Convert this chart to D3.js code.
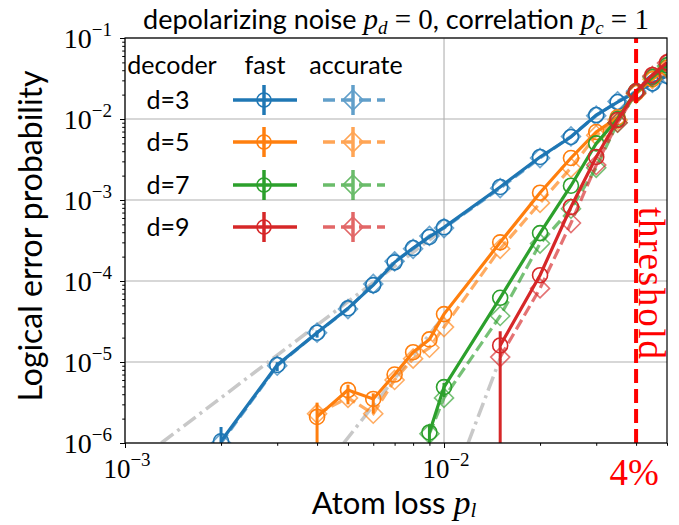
<!DOCTYPE html>
<html>
<head>
<meta charset="utf-8">
<script src="https://cdn.jsdelivr.net/npm/d3@7/dist/d3.min.js"></script>
<style>
  body { margin: 0; background: #fff; }
</style>
</head>
<body>
<svg id="chart" width="679" height="525"></svg>
<script>
// ---- data ----
const distances = [3, 5, 7, 9];

const loss3 = [0.002, 0.003, 0.004, 0.005, 0.006, 0.007, 0.008, 0.009, 0.01, 0.015, 0.02, 0.025, 0.03, 0.035, 0.04, 0.045, 0.05];
const fast3 = [1.05e-6, 9.2e-6, 2.3e-5, 4.6e-5, 8.9e-5, 1.7e-4, 2.55e-4, 3.5e-4, 4.6e-4, 1.45e-3, 3.4e-3, 6.0e-3, 1.12e-2, 1.62e-2, 2.15e-2, 2.75e-2, 3.4e-2];
const acc3 = [1.0e-6, 9.0e-6, 2.3e-5, 4.5e-5, 9.2e-5, 1.75e-4, 2.5e-4, 3.6e-4, 4.5e-4, 1.4e-3, 3.3e-3, 6.1e-3, 1.1e-2, 1.65e-2, 2.2e-2, 2.8e-2, 3.5e-2];
const errFast3 = [1.05e-6, 1.5e-6, 3e-6, 0, 0, 0, 0, 0, 0, 0, 0, 0, 0, 0, 0, 0, 0];

const loss5 = [0.004, 0.005, 0.006, 0.007, 0.008, 0.009, 0.01, 0.015, 0.02, 0.025, 0.03, 0.035, 0.04, 0.045, 0.05];
const fast5 = [2.1e-6, 4.5e-6, 3.5e-6, 7.0e-6, 1.32e-5, 1.9e-5, 3.9e-5, 3.0e-4, 1.23e-3, 3.3e-3, 6.9e-3, 1.05e-2, 2.1e-2, 3.1e-2, 4.3e-2];
const acc5 = [2.3e-6, 3.6e-6, 2.3e-6, 6.0e-6, 1.1e-5, 1.5e-5, 2.7e-5, 2.5e-4, 9.2e-4, 2.5e-3, 6.3e-3, 9.7e-3, 2.05e-2, 3.1e-2, 4.2e-2];
const errFast5 = [2.1e-6, 1.5e-6, 1.2e-6, 0, 0, 0, 0, 0, 0, 0, 0, 0, 0, 0, 0];

const loss7 = [0.009, 0.01, 0.015, 0.02, 0.025, 0.03, 0.035, 0.04, 0.045, 0.05];
const fast7 = [1.35e-6, 4.9e-6, 6.2e-5, 3.9e-4, 1.5e-3, 5.0e-3, 1.0e-2, 2.2e-2, 3.3e-2, 4.6e-2];
const acc7 = [1.3e-6, 3.6e-6, 3.7e-5, 2.9e-4, 7.8e-4, 2.5e-3, 9.0e-3, 2.1e-2, 3.3e-2, 4.5e-2];
const errFast7 = [0.7e-6, 1.2e-6, 0, 0, 0, 0, 0, 0, 0, 0];

const loss9 = [0.015, 0.02, 0.025, 0.03, 0.035, 0.04, 0.045, 0.05];
const fast9 = [1.6e-5, 1.18e-4, 8.2e-4, 3.4e-3, 9.7e-3, 2.2e-2, 3.5e-2, 5.0e-2];
const acc9 = [1.15e-5, 8.1e-5, 5.2e-4, 2.7e-3, 9.0e-3, 2.1e-2, 3.4e-2, 4.9e-2];
const errFast9 = [1.6e-5, 0, 0, 0, 0, 0, 0, 0];

// grey dash-dot guide lines (start / end points)
const guideLoss = [[0.0013, 0.01], [0.00485, 0.01], [0.0119, 0.015]];
const guideErr = [[1e-6, 4.4e-4], [1e-6, 3.7e-5], [1e-6, 1.1e-5]];

const thresholdLoss = 0.04;
const xMajor = [1e-3, 1e-2];
const yMajor = [1e-6, 1e-5, 1e-4, 1e-3, 1e-2, 1e-1];

const colors = ["#1f77b4", "#ff7f0e", "#2ca02c", "#d62728"];

// ---- layout ----
const W = 679, H = 525;
const margin = { top: 38, right: 12, bottom: 82, left: 125 };
const svg = d3.select("#chart");

const x = d3.scaleLog().domain([1e-3, 5e-2]).range([margin.left, W - margin.right]);
const y = d3.scaleLog().domain([1e-6, 1e-1]).range([H - margin.bottom, margin.top]);

const serif = "'Liberation Serif', 'Times New Roman', serif";
const sans = "Lato, 'Open Sans', sans-serif";

svg.append("defs").append("clipPath").attr("id", "plotClip")
    .append("rect")
    .attr("x", margin.left).attr("y", margin.top)
    .attr("width", W - margin.left - margin.right)
    .attr("height", H - margin.top - margin.bottom);

// grid
const grid = svg.append("g").attr("stroke", "#b0b0b0").attr("stroke-width", 1.1);
xMajor.forEach(v => grid.append("line")
    .attr("x1", x(v)).attr("x2", x(v)).attr("y1", margin.top).attr("y2", H - margin.bottom));
yMajor.forEach(v => grid.append("line")
    .attr("y1", y(v)).attr("y2", y(v)).attr("x1", margin.left).attr("x2", W - margin.right));

// axes ticks (major + minor) via d3 axes
const isMajor = v => Math.abs(Math.log10(v) - Math.round(Math.log10(v))) < 1e-6;
const xMinor = x.ticks().filter(v => !isMajor(v));
const yMinor = y.ticks().filter(v => !isMajor(v));

function styleAxis(g) {
    g.select(".domain").remove();
    g.selectAll("line").attr("stroke", "#000").attr("stroke-width", 1);
}
svg.append("g").attr("transform", `translate(0,${H - margin.bottom})`)
    .call(d3.axisBottom(x).tickValues(xMajor).tickSize(5).tickFormat("")).call(styleAxis);
svg.append("g").attr("transform", `translate(0,${H - margin.bottom})`)
    .call(d3.axisBottom(x).tickValues(xMinor).tickSize(2.8).tickFormat("")).call(styleAxis);
svg.append("g").attr("transform", `translate(${margin.left},0)`)
    .call(d3.axisLeft(y).tickValues(yMajor).tickSize(5).tickFormat("")).call(styleAxis);
svg.append("g").attr("transform", `translate(${margin.left},0)`)
    .call(d3.axisLeft(y).tickValues(yMinor).tickSize(2.8).tickFormat("")).call(styleAxis);

// tick labels 10^k
function powerLabel(sel, v) {
    const k = Math.round(Math.log10(v));
    sel.append("tspan").text("10");
    sel.append("tspan").attr("font-size", 19).attr("dy", -12).text("\u2212" + Math.abs(k));
}
yMajor.forEach(v => {
    svg.append("text").attr("x", 112).attr("y", y(v) + 10)
        .attr("text-anchor", "end").attr("font-family", serif).attr("font-size", 28)
        .call(powerLabel, v);
});
xMajor.forEach(v => {
    svg.append("text").attr("x", x(v) + 2).attr("y", 478)
        .attr("text-anchor", "middle").attr("font-family", serif).attr("font-size", 27)
        .call(powerLabel, v);
});
svg.append("text").attr("x", x(thresholdLoss) - 2).attr("y", 485)
    .attr("text-anchor", "middle").attr("font-family", serif).attr("font-size", 37)
    .attr("fill", "#ff0000").text("4%");

// plot content
const plot = svg.append("g").attr("clip-path", "url(#plotClip)");

const dashDot = "15,5,3,5";
guideLoss.forEach((xs, i) => {
    plot.append("path")
        .datum(xs.map((v, j) => [v, guideErr[i][j]]))
        .attr("d", d3.line().x(d => x(d[0])).y(d => y(d[1])))
        .attr("fill", "none").attr("stroke", "#c8c8c8").attr("stroke-width", 3.5)
        .attr("stroke-dasharray", dashDot);
});

const series = [
    { d: 3, loss: loss3, fast: fast3, acc: acc3, err: errFast3 },
    { d: 5, loss: loss5, fast: fast5, acc: acc5, err: errFast5 },
    { d: 7, loss: loss7, fast: fast7, acc: acc7, err: errFast7 },
    { d: 9, loss: loss9, fast: fast9, acc: acc9, err: errFast9 }
];

const line = d3.line().x(d => x(d[0])).y(d => y(d[1]));
const diamond = s => `M0,${-s}L${s},0L0,${s}L${-s},0Z`;

series.forEach((s, i) => {
    const c = colors[i];
    const fastPts = s.loss.map((v, j) => [v, s.fast[j], s.err[j]]);
    const accPts = s.loss.map((v, j) => [v, s.acc[j]]);

    // fast decoder
    plot.append("path").datum(fastPts).attr("d", line)
        .attr("fill", "none").attr("stroke", c).attr("stroke-width", 3.2);
    plot.selectAll(null).data(fastPts.filter(p => p[2] > 0)).enter().append("line")
        .attr("x1", p => x(p[0])).attr("x2", p => x(p[0]))
        .attr("y1", p => y(Math.max(p[1] - p[2], 1e-8)))
        .attr("y2", p => y(p[1] + p[2] * 0.5))
        .attr("stroke", c).attr("stroke-width", 3);
    plot.selectAll(null).data(fastPts).enter().append("circle")
        .attr("cx", p => x(p[0])).attr("cy", p => y(p[1])).attr("r", 7.5)
        .attr("fill", "none").attr("stroke", c).attr("stroke-width", 1.6);

    // accurate decoder
    plot.append("path").datum(accPts).attr("d", line)
        .attr("fill", "none").attr("stroke", c).attr("stroke-width", 3.2)
        .attr("stroke-dasharray", "11,5").attr("opacity", 0.65);
    plot.selectAll(null).data(accPts).enter().append("path")
        .attr("transform", p => `translate(${x(p[0])},${y(p[1])})`)
        .attr("d", diamond(9.5))
        .attr("fill", "none").attr("stroke", c).attr("stroke-width", 1.6).attr("opacity", 0.65);
});

// threshold line
plot.append("line")
    .attr("x1", x(thresholdLoss)).attr("x2", x(thresholdLoss))
    .attr("y1", H - margin.bottom).attr("y2", margin.top)
    .attr("stroke", "#ff0000").attr("stroke-width", 4).attr("stroke-dasharray", "14,6");
svg.append("text")
    .attr("transform", `translate(${x(thresholdLoss) + 3},207) rotate(90)`)
    .attr("font-family", serif).attr("font-size", 37).attr("fill", "#ff0000")
    .attr("textLength", 152).attr("lengthAdjust", "spacing")
    .text("threshold");

// frame
svg.append("rect")
    .attr("x", margin.left).attr("y", margin.top)
    .attr("width", W - margin.left - margin.right)
    .attr("height", H - margin.top - margin.bottom)
    .attr("fill", "none").attr("stroke", "#000").attr("stroke-width", 1.2);

// legend (table style)
const legend = svg.append("g").attr("font-family", sans).attr("font-size", 25);
legend.append("text").attr("x", 172).attr("y", 74).attr("text-anchor", "middle").text("decoder");
legend.append("text").attr("x", 265).attr("y", 74).attr("text-anchor", "middle").text("fast");
legend.append("text").attr("x", 356).attr("y", 74).attr("text-anchor", "middle").text("accurate");
const rowY = [100, 142, 185, 227];
distances.forEach((d, i) => {
    const c = colors[i], cy = rowY[i];
    legend.append("text").attr("x", 168).attr("y", cy + 9).attr("text-anchor", "middle").text("d=" + d);
    legend.append("line").attr("x1", 233).attr("x2", 297).attr("y1", cy).attr("y2", cy)
        .attr("stroke", c).attr("stroke-width", 3.5);
    legend.append("line").attr("x1", 264).attr("x2", 264).attr("y1", cy - 15).attr("y2", cy + 15)
        .attr("stroke", c).attr("stroke-width", 3.5);
    legend.append("circle").attr("cx", 264).attr("cy", cy).attr("r", 7)
        .attr("fill", "none").attr("stroke", c).attr("stroke-width", 1.6);
    const acc = legend.append("g").attr("opacity", 0.7);
    acc.append("line").attr("x1", 323).attr("x2", 385).attr("y1", cy).attr("y2", cy)
        .attr("stroke", c).attr("stroke-width", 3.5).attr("stroke-dasharray", "12,6");
    acc.append("line").attr("x1", 353).attr("x2", 353).attr("y1", cy - 15).attr("y2", cy + 15)
        .attr("stroke", c).attr("stroke-width", 3.5);
    acc.append("path").attr("transform", `translate(353,${cy})`).attr("d", diamond(10))
        .attr("fill", "none").attr("stroke", c).attr("stroke-width", 1.6);
});

// title
const title = svg.append("text").attr("x", 396).attr("y", 29).attr("text-anchor", "middle")
    .attr("font-family", sans).attr("font-size", 27);
title.append("tspan").text("depolarizing noise ");
title.append("tspan").attr("font-family", serif).attr("font-style", "italic").attr("font-size", 29).text("p");
title.append("tspan").attr("font-family", serif).attr("font-style", "italic").attr("font-size", 19).attr("dy", 5).text("d");
title.append("tspan").attr("font-family", serif).attr("font-size", 29).attr("dy", -5).text(" = 0");
title.append("tspan").text(", correlation ");
title.append("tspan").attr("font-family", serif).attr("font-style", "italic").attr("font-size", 29).text("p");
title.append("tspan").attr("font-family", serif).attr("font-style", "italic").attr("font-size", 19).attr("dy", 5).text("c");
title.append("tspan").attr("font-family", serif).attr("font-size", 29).attr("dy", -5).text(" = 1");

// axis labels
const xl = svg.append("text").attr("x", 394).attr("y", 514).attr("text-anchor", "middle")
    .attr("font-family", sans).attr("font-size", 31);
xl.append("tspan").text("Atom loss ");
xl.append("tspan").attr("font-family", serif).attr("font-style", "italic").attr("font-size", 34).text("p");
xl.append("tspan").attr("font-family", serif).attr("font-style", "italic").attr("font-size", 21).attr("dy", 3).text("l");

svg.append("text").attr("transform", "translate(42,236) rotate(-90)")
    .attr("text-anchor", "middle").attr("font-family", sans).attr("font-size", 32)
    .text("Logical error probability");
</script>
</body>
</html>
